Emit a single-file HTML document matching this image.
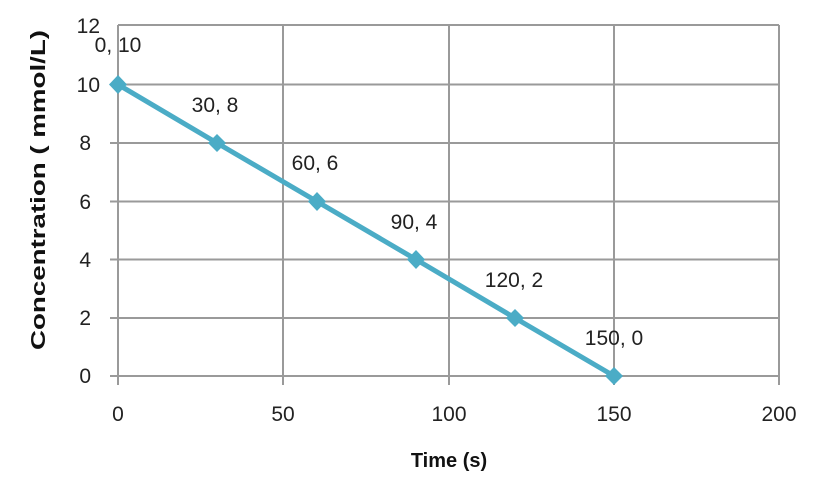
<!DOCTYPE html>
<html><head><style>body{margin:0;background:#fff}svg{display:block}</style></head><body>
<svg width="818" height="478" viewBox="0 0 818 478" xmlns="http://www.w3.org/2000/svg" font-family="'Liberation Sans', sans-serif">
<g stroke="#9a9a9a" stroke-width="2" fill="none">
<line x1="118" y1="25" x2="779" y2="25"/>
<line x1="110" y1="84.5" x2="779" y2="84.5"/>
<line x1="110" y1="143" x2="779" y2="143"/>
<line x1="110" y1="201.5" x2="779" y2="201.5"/>
<line x1="110" y1="259.5" x2="779" y2="259.5"/>
<line x1="110" y1="318" x2="779" y2="318"/>
<line x1="110" y1="376" x2="779" y2="376"/>
<line x1="118" y1="25" x2="118" y2="385"/>
<line x1="283" y1="25" x2="283" y2="385"/>
<line x1="449" y1="25" x2="449" y2="385"/>
<line x1="614" y1="25" x2="614" y2="385"/>
<line x1="779" y1="25" x2="779" y2="385"/>
</g>
<g font-size="21" fill="#222" text-anchor="end">
<text x="100" y="33">12</text><text x="100" y="92">10</text><text x="91" y="150">8</text>
<text x="91" y="209">6</text><text x="91" y="267">4</text><text x="91" y="325">2</text><text x="91" y="383">0</text>
</g>
<g font-size="21" fill="#222" text-anchor="middle">
<text x="118" y="421">0</text><text x="283" y="421">50</text><text x="449" y="421">100</text>
<text x="614" y="421">150</text><text x="779" y="421">200</text>
</g>
<text x="449" y="467" font-size="20" font-weight="bold" text-anchor="middle" fill="#111">Time (s)</text>
<text transform="translate(45,190) rotate(-90)" font-size="20" font-weight="bold" text-anchor="middle" fill="#111" textLength="320" lengthAdjust="spacingAndGlyphs">Concentration ( mmol/L)</text>
<polyline points="118,84.5 217,143 317,201.5 416,259.5 515,318 614,376" fill="none" stroke="#4bacc6" stroke-width="5"/>
<g fill="#4bacc6">
<polygon points="118,75 127,84.5 118,94 109,84.5"/>
<polygon points="217,134 226,143 217,152 208,143"/>
<polygon points="317,192 326,201.5 317,211 308,201.5"/>
<polygon points="416,250 425,259.5 416,269 407,259.5"/>
<polygon points="515,309 524,318 515,327 506,318"/>
<polygon points="614,367 623,376 614,385 605,376"/>
</g>
<g font-size="21" fill="#222" text-anchor="middle">
<text x="118" y="52">0, 10</text><text x="215" y="112">30, 8</text><text x="315" y="170">60, 6</text>
<text x="414" y="229">90, 4</text><text x="514" y="287">120, 2</text><text x="614" y="345">150, 0</text>
</g>
</svg>
</body></html>
